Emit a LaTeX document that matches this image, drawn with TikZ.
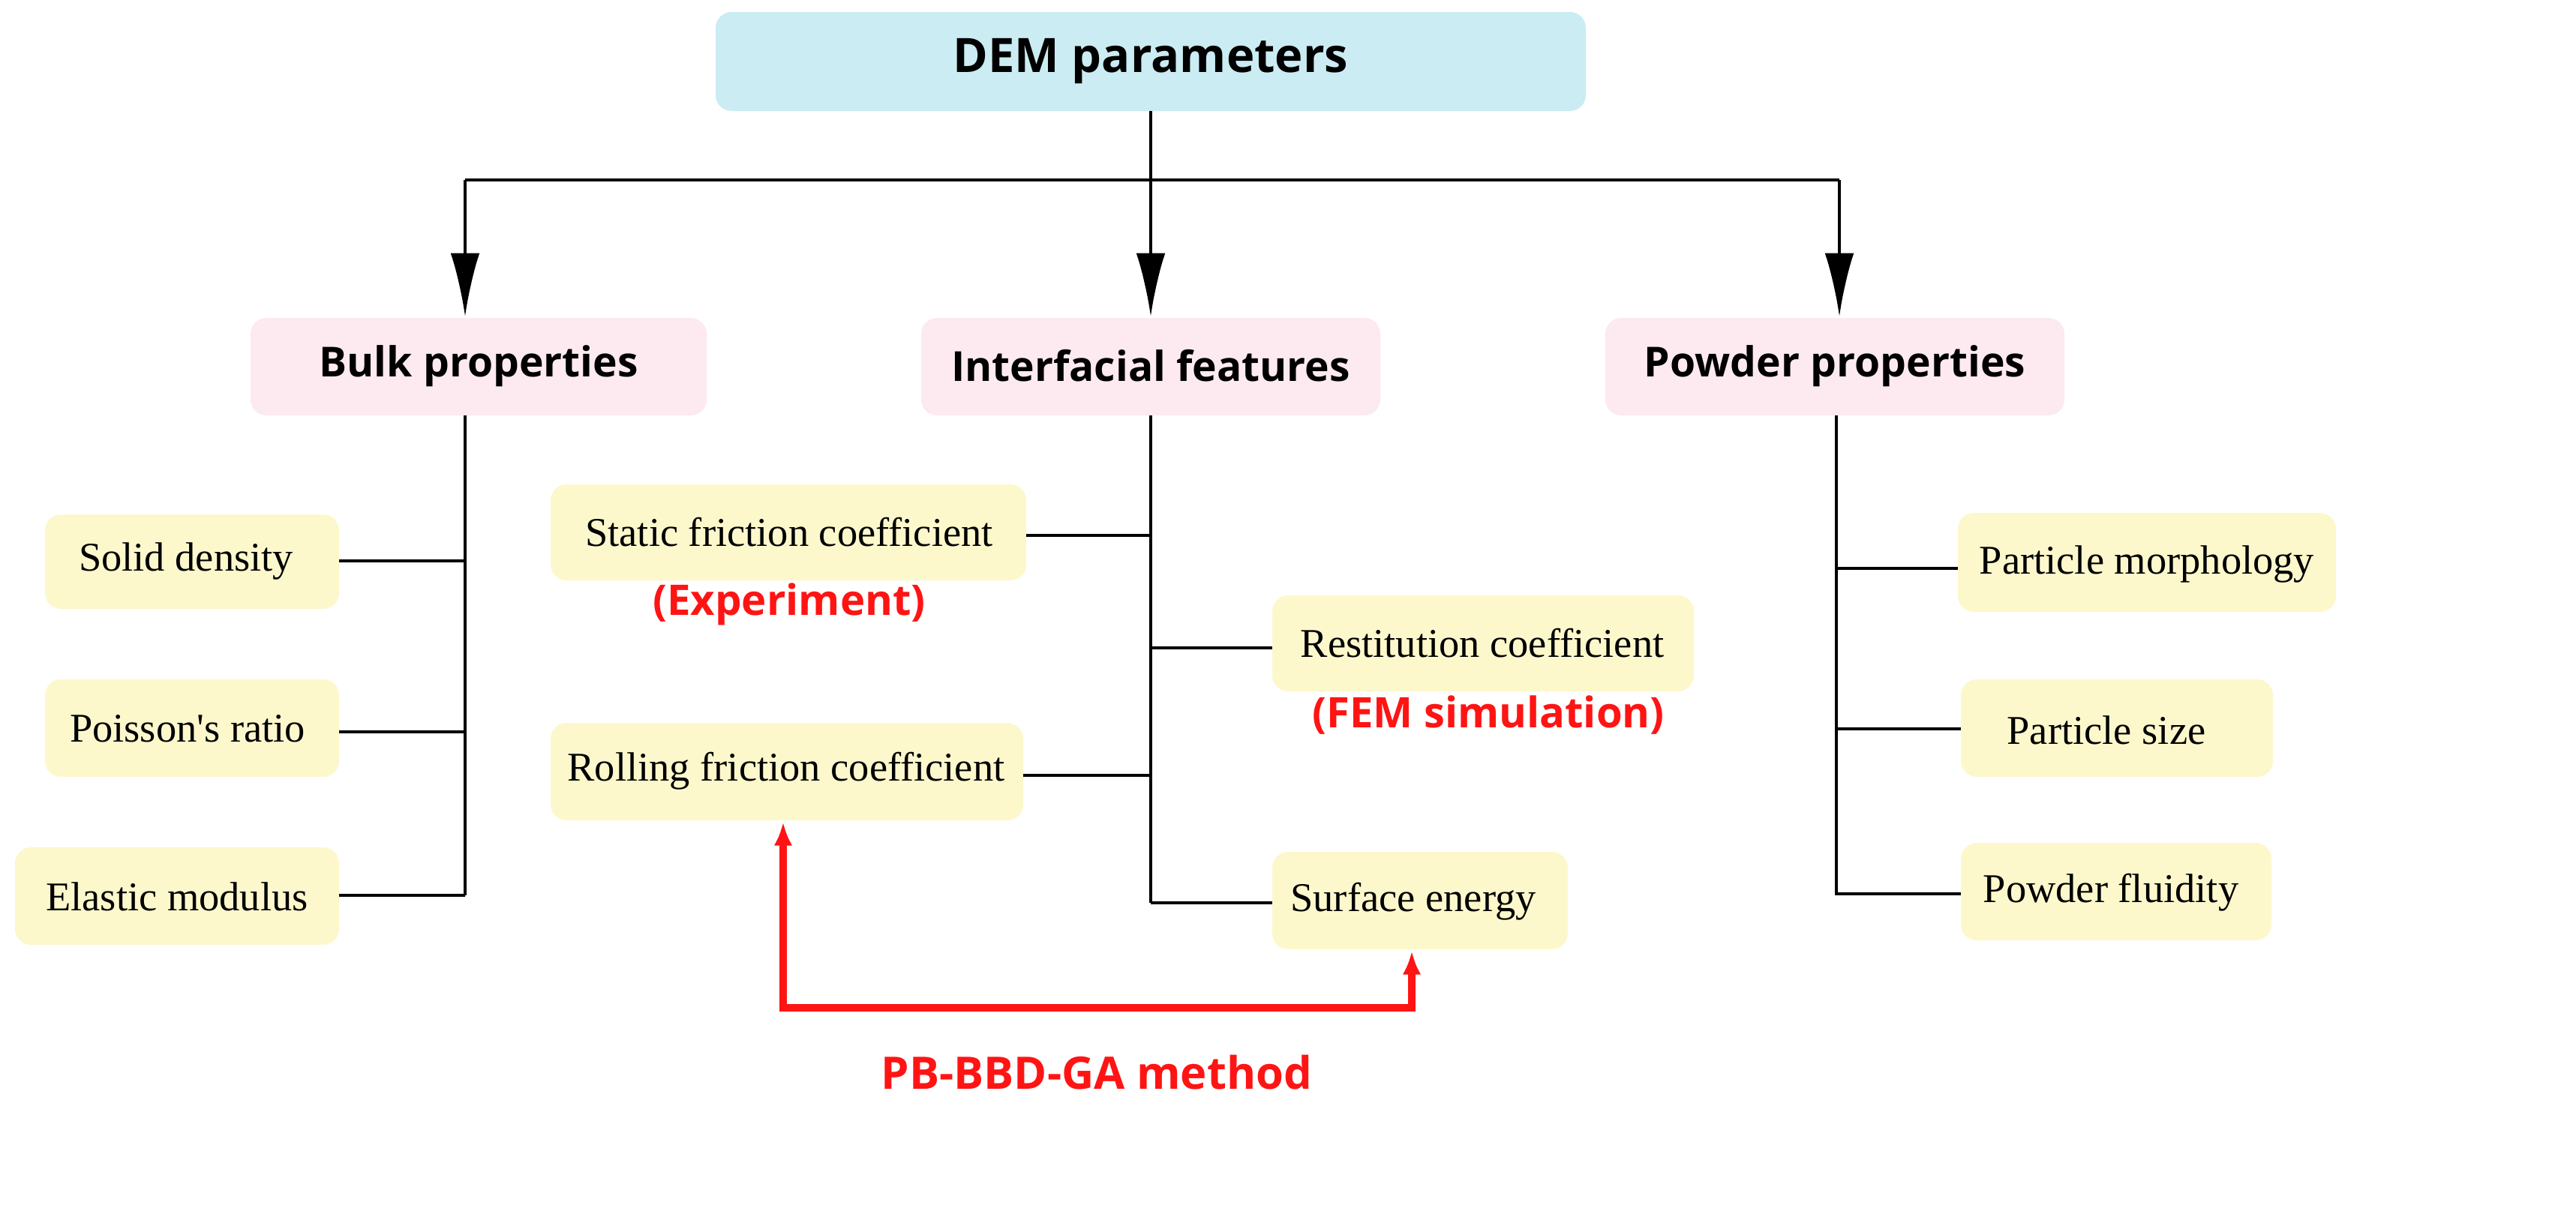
\documentclass[tikz,border=0pt]{standalone}
\usepackage{fontspec}
\setmainfont{Liberation Serif}
\newfontfamily\hdr{Open Sans}
\usetikzlibrary{arrows.meta}
\definecolor{cyanbox}{RGB}{202,236,242}
\definecolor{pinkbox}{RGB}{252,234,240}
\definecolor{yelbox}{RGB}{252,248,204}
\definecolor{redt}{RGB}{255,20,20}
\begin{document}
\begin{tikzpicture}[x=0.02cm,y=-0.02cm,
  lf/.style={font=\fontsize{15.5}{18}\selectfont},
  hd/.style={font=\hdr\bfseries\fontsize{15.7}{18}\selectfont},
  rt/.style={font=\hdr\bfseries\fontsize{16}{19}\selectfont,text=redt},
  ln/.style={line width=1.3pt},
  arr/.style={ln,-{Latex[length=24pt,width=11pt]}}]
\useasboundingbox (0,0) rectangle (1717,805);
\fill[cyanbox,rounded corners=6pt] (477,8) rectangle (1057,74);
\node[font=\hdr\bfseries\fontsize{18}{21}\selectfont] (dem) at (767,41) {DEM parameters};
\fill[pinkbox,rounded corners=6pt] (167,212) rectangle (471,277);
\node[hd] (bulk) at (319,244) {Bulk properties};
\fill[pinkbox,rounded corners=6pt] (614,212) rectangle (920,277);
\node[hd] (inter) at (767,244) {Interfacial features};
\fill[pinkbox,rounded corners=6pt] (1070,212) rectangle (1376,277);
\node[hd] (pow) at (1223,244) {Powder properties};
% top arrows
\coordinate (hl) at (310,120); \coordinate (hr) at (1226,120);
\draw[ln] (767,74) -- (767,120);
\draw[ln] (hl) -- (hr);
\draw[arr] (hl) -- (310,211);
\draw[arr] (767,120) -- (767,211);
\draw[arr] (hr) -- (1226,211);
% bulk leaves
\fill[yelbox,rounded corners=6pt] (30,343) rectangle (226,406);
\node[lf] (sd) at (124,374) {Solid density};
\fill[yelbox,rounded corners=6pt] (30,453) rectangle (226,518);
\node[lf] (pr) at (125,486) {Poisson\textquotesingle s ratio};
\fill[yelbox,rounded corners=6pt] (10,565) rectangle (226,630);
\node[lf] (em) at (118,598) {Elastic modulus};
\draw[ln] (310,277) -- (310,597);
\draw[ln] (226,374) -- (310,374);
\draw[ln] (226,488) -- (310,488);
\draw[ln] (226,597) -- (310,597);
% interfacial leaves
\fill[yelbox,rounded corners=6pt] (367,323) rectangle (684,387);
\node[lf] (sf) at (526,355) {Static friction coefficient};
\node[rt] (exp) at (526,403) {(Experiment)};
\fill[yelbox,rounded corners=6pt] (848,397) rectangle (1129,461);
\node[lf] (rc) at (988,429) {Restitution coefficient};
\node[rt] (fem) at (992,477) {(FEM simulation)};
\fill[yelbox,rounded corners=6pt] (367,482) rectangle (682,547);
\node[lf] (rf) at (524,514) {Rolling friction coefficient};
\fill[yelbox,rounded corners=6pt] (848,568) rectangle (1045,633);
\node[lf] (se) at (942,601) {Surface energy};
\draw[ln] (767,277) -- (767,602);
\draw[ln] (684,357) -- (767,357);
\draw[ln] (767,432) -- (848,432);
\draw[ln] (682,517) -- (767,517);
\draw[ln] (767,602) -- (848,602);
% powder leaves
\fill[yelbox,rounded corners=6pt] (1305,342) rectangle (1557,408);
\node[lf] (pm) at (1431,376) {Particle morphology};
\fill[yelbox,rounded corners=6pt] (1307,453) rectangle (1515,518);
\node[lf] (ps) at (1404,487) {Particle size};
\fill[yelbox,rounded corners=6pt] (1307,562) rectangle (1514,627);
\node[lf] (pf) at (1407,595) {Powder fluidity};
\draw[ln] (1224,277) -- (1224,597);
\draw[ln] (1224,379) -- (1305,379);
\draw[ln] (1224,486) -- (1307,486);
\draw[ln] (1224,596) -- (1307,596);
% red method arrow
\coordinate (ra) at (522,672); \coordinate (rb) at (941,672);
\draw[redt,line width=2.6pt,{Latex[length=9pt,width=7pt]}-{Latex[length=9pt,width=7pt]},line join=miter]
  (522,548) -- (ra) -- (rb) -- (941,634);
\node[rt,font=\hdr\bfseries\fontsize{17}{20}\selectfont] (pb) at (731,715) {PB-BBD-GA method};
\end{tikzpicture}
\end{document}
